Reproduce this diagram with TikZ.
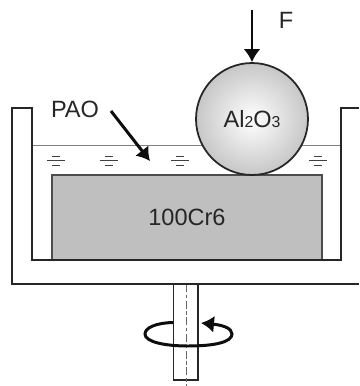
\documentclass[tikz,border=0pt]{standalone}
\usepackage{fontspec}
\setmainfont{Liberation Sans}
\usetikzlibrary{arrows.meta}
\tikzset{
  wall/.style={draw=black!85,line width=0.9pt},
  label/.style={inner sep=0pt,text=black!85,font=\fontsize{13.4}{15}\selectfont},
  force/.style={->,draw=black!95,line width=1.7pt},
  oilmark/.style={draw=black!75,line width=0.55pt},
}
% one unit is one pixel of the sketch, y runs downwards
\begin{document}
\begin{tikzpicture}[x=0.02cm, y=-0.02cm, >={Latex[length=0.26cm,width=0.34cm]}]
    \useasboundingbox (0,0) rectangle (359,386);

    % oil level and marks
    \coordinate (oilL) at (32,145.5);
    \coordinate (oilR) at (341,145.5);
    \draw[draw=black!50,line width=0.8pt] (oilL)--(oilR);
    \foreach \mx/\mname in {56/a,109/b,180/c,318/d} {
      \coordinate (\mname1) at (\mx-4,156);
      \coordinate (\mname2) at (\mx+4,156);
      \coordinate (\mname3) at (\mx-9,160.5);
      \coordinate (\mname4) at (\mx+9,160.5);
      \coordinate (\mname5) at (\mx-4,165);
      \coordinate (\mname6) at (\mx+4,165);
      \draw[oilmark] (\mname1)--(\mname2); \draw[oilmark] (\mname3)--(\mname4); \draw[oilmark] (\mname5)--(\mname6);
    }

    % shaft
    \coordinate (sTL) at (173.5,284);
    \coordinate (sBL) at (173.5,380);
    \coordinate (sBR) at (198,380);
    \coordinate (sTR) at (198,284);
    \coordinate (axisT) at (186.5,284);
    \coordinate (axisB) at (186.5,386);
    \draw[wall] (sTL)--(sBL)--(sBR)--(sTR);
    \draw[draw=black!60,line width=1.1pt,dash pattern=on 4.5pt off 1.5pt on 2pt off 1.5pt] (axisT)--(axisB);

    % block and bath
    \node[draw=black!70,line width=0.8pt,fill=black!25,rectangle,minimum width=5.4cm,minimum height=1.7cm,inner sep=0pt,label] (block) at (187,217.5) {100Cr6};
    \coordinate (wA) at (359,108);
    \coordinate (wB) at (341,108);
    \coordinate (wC) at (341,260);
    \coordinate (wD) at (32,260);
    \coordinate (wE) at (32,108);
    \coordinate (wF) at (12,108);
    \coordinate (wG) at (12,284);
    \coordinate (wH) at (359,284);
    \draw[wall] (wA)--(wB)--(wC)--(wD)--(wE)--(wF)--(wG)--(wH);

    % ball
    \node[draw=black!85,line width=1pt,circle,minimum size=2.24cm,inner sep=0pt,inner color=white,outer color=black!22,label] (ball) at (252,119) {Al{\fontsize{9}{10}\selectfont 2}O{\fontsize{9}{10}\selectfont 3}};

    % labels and arrows
    \node[label] (F) at (286,20) {F};
    \node[label] (PAO) at (75,109) {PAO};
    \coordinate (Ftop) at (252,10);
    \coordinate (PAOs) at (111,111);
    \coordinate (PAOe) at (150,161);
    \draw[force] (Ftop)--(ball.north);
    \draw[force] (PAOs)--(PAOe);

    % rotation
    \coordinate (rotS) at (173,322.5);
    \coordinate (rotE) at (201,323);
    \draw[force] (rotS) .. controls (155,323) and (145,328) .. (145,334)
      .. controls (145,342) and (165,346) .. (188,346)
      .. controls (215,346) and (232,342) .. (232,334)
      .. controls (232,328) and (222,325) .. (rotE);
\end{tikzpicture}
\end{document}
